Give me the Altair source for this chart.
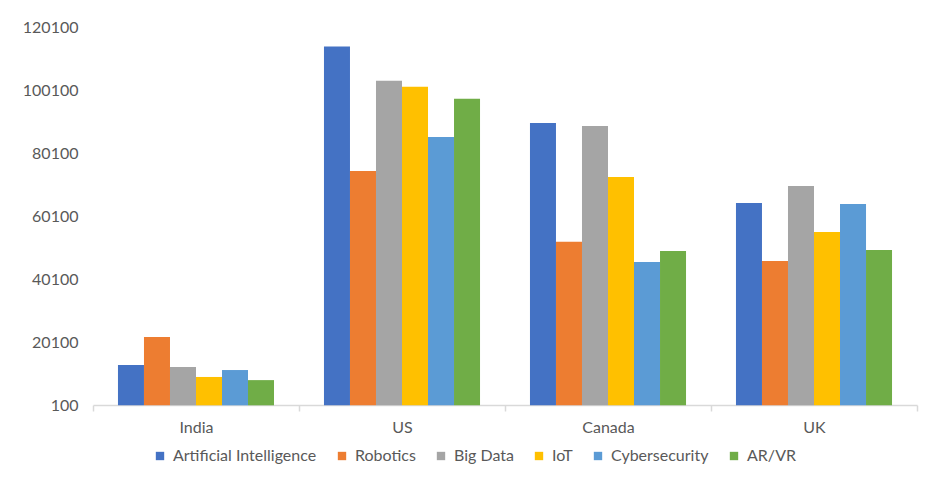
import altair as alt
import pandas as pd

countries = ["India", "US", "Canada", "UK"]
series = ["Artificial Intelligence", "Robotics", "Big Data", "IoT", "Cybersecurity", "AR/VR"]
colors = ["#4472C4", "#ED7D31", "#A5A5A5", "#FFC000", "#5B9BD5", "#70AD47"]

ai = [12800, 113900, 89600, 64200]
robotics = [21700, 74400, 51900, 45800]
big_data = [12200, 103000, 88700, 69600]
iot = [9000, 101100, 72500, 55000]
cyber = [11200, 85200, 45500, 63900]
arvr = [8000, 97300, 49000, 49300]

y_ticks = [100, 20100, 40100, 60100, 80100, 100100, 120100]

values = [ai, robotics, big_data, iot, cyber, arvr]
rows = []
for s, vals in zip(series, values):
    for c, v in zip(countries, vals):
        rows.append({"Country": c, "Field": s, "Value": v})
df = pd.DataFrame(rows)

FONT = "Lato"
TXT = "#595959"
FS = 16

chart = alt.Chart(df).mark_bar().encode(
    x=alt.X("Country:N", sort=countries, title=None,
            scale=alt.Scale(paddingInner=0, paddingOuter=0),
            axis=alt.Axis(labelAngle=0, tickBand="extent", domainColor="#D9D9D9",
                          domainWidth=1.5, tickColor="#D9D9D9", tickWidth=1.5,
                          tickSize=6, labelPadding=8, labelFont=FONT,
                          labelFontSize=FS, labelColor=TXT, grid=False)),
    xOffset=alt.XOffset("Field:N", sort=series,
                        scale=alt.Scale(paddingInner=0, paddingOuter=0.96)),
    y=alt.Y("Value:Q", title=None,
            scale=alt.Scale(domain=[100, 120100], nice=False, zero=False),
            axis=alt.Axis(values=y_ticks, format="d", domain=False, ticks=False,
                          grid=False, labelPadding=15, labelFont=FONT,
                          labelFontSize=FS, labelColor=TXT)),
    color=alt.Color("Field:N", sort=series,
                    scale=alt.Scale(domain=series, range=colors),
                    legend=alt.Legend(title=None, orient="none", direction="horizontal",
                                      legendX=59, legendY=421, symbolType="square",
                                      symbolSize=70, symbolStrokeWidth=0,
                                      labelFont=FONT, labelFontSize=FS,
                                      labelColor=TXT, columnPadding=17,
                                      symbolOffset=0, labelOffset=5)),
).properties(
    width=824, height=378,
    autosize=alt.AutoSizeParams(type="none"),
    padding={"left": 85, "top": 19, "right": 20, "bottom": 80},
).configure_view(stroke=None)

chart.save("out.html", embed_options={"renderer": "svg", "actions": False})
